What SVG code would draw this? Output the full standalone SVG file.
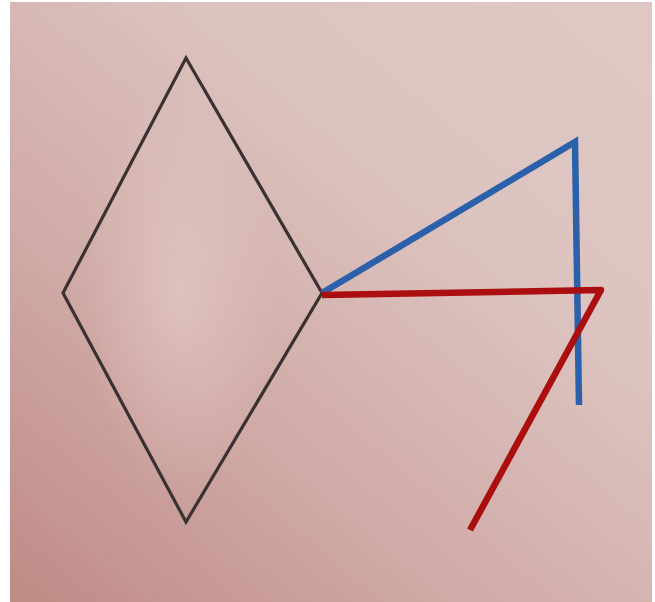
<svg xmlns="http://www.w3.org/2000/svg" width="655" height="602" viewBox="0 0 655 602">
<defs>
<linearGradient id="bg" x1="0" y1="1" x2="0.9" y2="0">
<stop offset="0" stop-color="#bf8a86"/>
<stop offset="0.35" stop-color="#d0aaa6"/>
<stop offset="0.7" stop-color="#dcc3bf"/>
<stop offset="1" stop-color="#dfc8c4"/>
</linearGradient>
<radialGradient id="hl" cx="180" cy="290" r="160" gradientUnits="userSpaceOnUse" gradientTransform="translate(180 290) scale(0.6 1.3) translate(-180 -290)">
<stop offset="0" stop-color="#e6d0cc" stop-opacity="0.55"/>
<stop offset="1" stop-color="#e6d0cc" stop-opacity="0"/>
</radialGradient>
<style>
.dia{fill:none;stroke:#3a3131;stroke-width:3.2;stroke-linejoin:miter}
.blue{fill:none;stroke:#2b60ab;stroke-width:6.5;stroke-linejoin:miter}
.red{fill:none;stroke:#ab0e0e;stroke-width:6.5;stroke-linejoin:round}
</style>
</defs>
<rect width="655" height="602" fill="#ffffff"/>
<rect x="10" y="2" width="642" height="600" fill="url(#bg)"/>
<rect x="10" y="2" width="642" height="600" fill="url(#hl)"/>
<g id="diamond">
<polygon class="dia" points="186,58 322,293 186,522 63,293"/>
</g>
<g id="connectors">
<polyline class="blue" points="322,293 575,142 579,405"/>
<polyline class="red" points="322,295 601,290 470,530"/>
</g>
</svg>
